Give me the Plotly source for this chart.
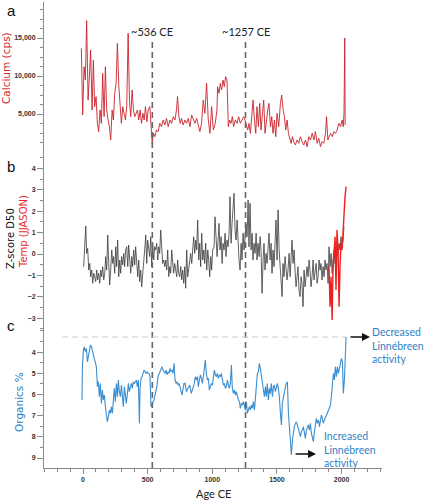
import plotly.graph_objects as go

# ---------------- Data ----------------
ca_year = [-13, -3, 8, 18, 28, 39, 49, 59, 70, 80, 90, 101, 111, 121, 132, 142, 152, 163, 173, 183,
           194, 204, 214, 225, 235, 245, 256, 266, 277, 287, 297, 307, 318, 328, 338, 349, 359, 369, 380, 390,
           400, 411, 421, 431, 442, 452, 463, 473, 483, 494, 504, 517, 525, 535, 545, 556, 568, 581, 594, 607,
           620, 633, 646, 659, 672, 685, 698, 711, 723, 731, 742, 752, 762, 775, 788, 801, 814, 827, 840, 853,
           866, 879, 892, 904, 917, 930, 943, 956, 969, 982, 995, 1008,
           1023, 1036, 1041, 1052, 1062, 1072, 1083, 1093, 1103, 1114, 1124, 1134, 1145, 1155, 1165, 1178, 1191, 1204,
           1217, 1230, 1243, 1253, 1264, 1274, 1284, 1295, 1305, 1315, 1326, 1336, 1346, 1357, 1367, 1377, 1388, 1398,
           1408, 1419, 1429, 1439, 1450, 1460, 1470, 1481, 1491, 1501, 1514, 1527, 1537, 1548, 1558, 1568, 1579, 1589,
           1600, 1610, 1620, 1630, 1643, 1656, 1669, 1682, 1695, 1708, 1721, 1734, 1747, 1760, 1773, 1786, 1798, 1811,
           1824, 1837, 1850, 1863, 1876, 1884, 1894, 1904, 1915, 1928, 1941, 1953, 1966, 1979, 1992, 2005, 2013, 2019,
           2025, 2028]
ca_cps = [13640, 4870, 11230, 9470, 17280, 6840, 9910, 13420, 5530, 12100, 5970, 7280, 3770, 2680, 5530, 3770,
          10350, 4650, 11230, 5530, 4210, 3330, 1580, 5530, 4210, 7720, 9040, 14300, 8600, 5530, 3770, 5970, 5090,
          4210, 5970, 15610, 6840, 4650, 8160, 5530, 4650, 5090, 5530, 4210, 5530, 3770, 5090, 4210, 5970, 3990,
          5530, 5970, 3330, 1140, 2460, 2020, 2900, 2680, 3770, 3330, 4210, 3550, 4430, 3330, 4210, 3770, 4650,
          4210, 5530, 7280, 4650, 3770, 4430, 3550, 4210, 3770, 4430, 3330, 4870, 4210, 3770, 4430, 3330, 2680,
          3770, 6840, 5090, 9040, 4210, 2460, 5970, 2900,
          3770, 5530, 8600, 7720, 9040, 8160, 9470, 8600, 9910, 9470, 3330, 4210, 3770, 4650, 3330, 4210, 3770,
          4650, 3770, 4210, 4650, 4210, 3330, 2900, 3770, 2460, 4650, 6840, 4210, 2460, 5970, 3330, 6400, 2900,
          5090, 6840, 2460, 4210, 5530, 6400, 3330, 4650, 2460, 4210, 2020, 5090, 3330, 6400, 7500, 5530, 4650,
          2900, 4210, 2460, 1580, 1140, 2020, 1360, 920, 1580, 1140, 2020, 1360, 920, 1580, 700, 2020, 1580, 2460,
          1580, 2680, 1140, 1800, 700, 1360, 1140, 2460, 4650, 1580, 2020, 2460, 2020, 2680, 2460, 2900, 3770,
          3330, 4210, 3330, 5090, 15000, 3550]

z_year = [5, 13, 21, 28, 36, 44, 52, 59, 67, 75, 83, 90, 98, 106, 113, 121, 129, 137, 144, 152, 160, 168, 175,
          183, 191, 199, 206, 214, 222, 230, 237, 245, 253, 260, 268, 276, 284, 291, 299, 307, 315, 322, 330, 338,
          346, 353, 361, 369, 377, 384, 392, 400, 407, 415, 423, 431, 438, 446, 454, 462, 469, 477, 485, 493, 500,
          508, 516, 524, 531, 539, 547, 554, 562, 570, 578, 585, 593, 601, 609, 616, 624, 632, 640, 647, 655, 663,
          671, 678, 686, 694, 701, 709, 717, 725, 732, 740, 748, 756, 763, 771, 779, 787, 794, 802, 810, 818, 825,
          833, 841, 848, 856, 864, 872, 879, 887, 895, 903, 910, 918, 926, 934, 941, 949, 957, 965, 972, 980, 988,
          995, 1003,
          1014, 1021, 1029, 1037, 1045, 1052, 1060, 1068, 1076, 1083, 1091, 1099, 1106, 1114, 1122, 1130, 1137,
          1145, 1153, 1161, 1168, 1176, 1184, 1192, 1199, 1207, 1215, 1223, 1230, 1238, 1246, 1253, 1261, 1269,
          1277, 1284, 1292, 1300, 1308, 1315, 1323, 1331, 1339, 1346, 1354, 1362, 1370, 1377, 1385, 1393, 1400,
          1408, 1416, 1424, 1431, 1439, 1447, 1455, 1462, 1470, 1478, 1486, 1493, 1501, 1509, 1517, 1524, 1532,
          1540, 1547, 1555, 1563, 1571, 1578, 1586, 1594, 1602, 1609, 1617, 1625, 1633, 1640, 1648, 1656, 1663,
          1671, 1679, 1687, 1694, 1702, 1710, 1718, 1725, 1733, 1741, 1749, 1756, 1764, 1772, 1780, 1787, 1795,
          1803, 1811, 1818, 1826, 1834, 1841, 1849, 1857, 1865, 1872, 1880, 1888, 1896, 1903, 1911, 1919, 1927,
          1934, 1942, 1950, 1957, 1965, 1973, 1981, 1988, 1996, 2004, 2012, 2019]
z_d50 = [-0.59, 0.34, 1.31, 0.03, 0.26, -0.75, -0.44, -1.06, -0.75, -1.37, -0.90, -1.06, -1.29, -0.75, -1.21,
         -0.90, -1.37, -0.75, -1.06, -0.59, -1.21, -0.90, -0.12, -0.75, 0.89, -0.44, -1.45, -0.75, 0.19, -0.44,
         -0.12, -0.90, 0.34, -0.59, 0.65, -1.06, -0.28, -0.90, -0.12, -0.51, 0.03, -0.59, 0.19, 0.34, -0.59, 0.42,
         -0.28, -0.90, -0.12, -0.59, 0.19, -0.51, 0.34, -0.75, -1.06, -0.28, -1.29, -0.75, -1.53, -0.90, -0.12,
         0.19, 0.89, -0.44, 0.65, 0.19, -0.12, 0.81, -0.59, 0.50, -0.28, 0.34, 0.19, 0.50, -0.28, 0.34, 0.03, 1.12,
         0.19, -0.44, -0.28, -0.59, -0.28, -0.75, 0.19, -1.06, -0.59, -0.90, 0.19, -0.59, -0.90, -0.44, -0.75,
         -1.06, -0.28, -0.90, -1.06, -0.59, -1.21, -0.75, -1.37, -0.59, -1.60, 0.19, -1.06, -0.75, -0.28, 0.03,
         -0.44, 0.34, 0.81, 0.03, 0.65, 0.19, 1.59, -0.28, 0.50, -0.59, 0.97, -0.28, 0.19, -0.44, 0.50, -0.75, 0.19,
         -0.28, -1.06, -0.12, -0.75, 0.19,
         0.34, 1.74, 0.97, -0.12, 0.65, 1.43, 0.19, 0.81, -0.44, 0.50, 0.19, 0.97, -0.12, 0.65, 0.34, 0.97, 2.68,
         0.50, 1.43, 2.37, 2.84, 1.12, 0.65, 1.59, 0.34, -0.28, -0.75, 0.50, -0.28, 0.97, 0.19, 0.65, 1.43, 0.81,
         2.52, 0.34, 2.37, 0.19, 0.97, -0.28, 0.50, 0.03, 0.97, -0.28, 0.50, -0.12, 0.81, 0.19, -1.84, -0.28, 0.50,
         -0.75, 0.03, -0.44, 0.34, 0.97, -0.28, 0.50, -0.90, 0.19, -0.59, 0.65, 1.59, -0.28, 2.06, 0.19, -0.59,
         -1.21, -1.99, -0.44, -1.06, -0.12, -0.59, -1.21, -0.75, 0.03, -1.06, -0.28, 0.65, -0.44, 0.19, -0.75,
         -1.53, -1.06, -0.59, -1.68, -1.99, -1.06, -1.37, -2.46, -0.75, -1.53, -1.21, -0.59, -1.06, -0.28, -0.75,
         -1.53, -1.06, -0.28, -1.21, -0.90, -0.44, -1.37, -1.06, -0.28, -0.75, -0.44, -1.21, -0.59, -1.06, -0.28,
         -0.75, -0.44, -1.37, 0.34, -0.59, 0.03, -0.90, -0.28, 0.19, -0.44, 0.34, -0.12, 0.03, 0.50, 0.19, 0.81,
         0.34, 0.65, 1.28]

t_year = [1903, 1911, 1919, 1927, 1934, 1942, 1950, 1957, 1965, 1973, 1981, 1988, 1996, 2004, 2012, 2019,
          2027, 2035]
t_jjason = [-0.59, -2.46, -1.06, -3.08, -0.75, 0.34, 0.81, -1.68, 1.12, 0.19, -2.46, -0.59, 0.50, 0.19, 1.28,
            1.74, 2.68, 3.15]

org_year = [-8, -5, 3, 10, 18, 26, 34, 41, 49, 57, 65, 72, 80, 88, 95, 103, 111, 119, 126, 134, 142, 150, 157,
            165, 173, 181, 188, 196, 204, 212, 219, 227, 235, 242, 250, 258, 266, 273, 281, 289, 297, 304, 312,
            320, 328, 335, 343, 351, 358, 366, 374, 382, 389, 397, 405, 413, 420, 428, 436, 441, 449, 457, 464,
            472, 480, 487, 495, 503, 511, 518, 526, 534, 542, 549, 557, 565, 573, 580, 588, 596, 604, 611, 619,
            627, 634, 642, 650, 658, 665, 673, 681, 689, 696, 704, 712, 720, 727, 735, 743, 750, 758, 766, 774,
            781, 789, 800, 812, 825, 838, 846, 854, 861, 869, 877, 885, 892, 900, 908, 916, 923, 931, 939, 946,
            954, 962, 970, 977, 985, 993, 1001, 1008, 1016, 1024, 1032, 1039, 1047, 1055, 1063, 1070, 1078, 1086,
            1094, 1101, 1109, 1117, 1125, 1132, 1140, 1148, 1155, 1163, 1171, 1179, 1186, 1194, 1202, 1210, 1217,
            1225, 1233, 1241, 1248, 1256, 1264, 1271, 1279, 1287, 1295, 1302, 1310, 1318, 1326, 1333, 1341, 1349,
            1357, 1364, 1372, 1380, 1387, 1395, 1403, 1411, 1418, 1426, 1434, 1442, 1449, 1457, 1465, 1473, 1480,
            1488, 1496, 1504, 1511, 1519, 1527, 1535, 1542, 1550, 1558, 1566, 1573, 1581, 1589, 1596, 1604, 1612,
            1620, 1627, 1635, 1643, 1651, 1658, 1666, 1674, 1682, 1689, 1697, 1705, 1712, 1720, 1728, 1736, 1743,
            1751, 1759, 1767, 1774, 1782, 1790, 1798, 1805, 1813, 1821, 1829, 1836, 1844, 1852, 1859, 1867, 1875,
            1883, 1890, 1898, 1906, 1914, 1921, 1929, 1937, 1945, 1952, 1960, 1968, 1976, 1983, 1991, 1999, 2007,
            2014, 2022, 2030, 2035]
org_pct = [6.26, 4.69, 3.91, 3.75, 3.98, 3.83, 4.46, 4.14, 3.91, 3.67, 3.75, 3.91, 4.22, 4.38, 4.46, 4.69, 5.63,
           5.40, 6.11, 5.48, 6.42, 5.79, 6.26, 6.03, 6.58, 6.89, 7.29, 7.05, 6.74, 6.89, 6.58, 6.89, 6.03, 5.71,
           6.34, 5.48, 6.11, 5.32, 5.87, 6.11, 5.56, 6.03, 6.58, 5.63, 6.03, 6.42, 5.95, 5.48, 5.87, 5.63, 5.48,
           5.71, 5.40, 5.48, 5.40, 5.32, 5.63, 5.32, 7.36, 5.71, 5.24, 5.16, 5.01, 4.85, 4.93, 5.01, 4.93, 5.01,
           5.01, 5.16, 6.58, 6.42, 6.34, 6.26, 6.03, 5.79, 5.56, 5.16, 5.01, 4.93, 4.77, 4.69, 4.85, 4.93, 5.01,
           4.85, 5.08, 4.93, 5.01, 4.77, 4.93, 4.85, 5.01, 4.53, 5.32, 5.48, 5.40, 5.56, 5.48, 5.63, 5.87, 6.03,
           5.71, 5.48, 5.48, 5.87, 5.71, 5.56, 5.95, 5.79, 5.63, 5.48, 5.16, 5.32, 5.16, 5.63, 5.32, 5.08, 5.24,
           5.48, 5.16, 4.85, 4.38, 5.01, 5.32, 5.24, 5.79, 5.63, 5.48, 5.56, 5.32, 4.85, 5.08, 5.16, 5.01, 5.24,
           5.08, 5.16, 5.01, 5.32, 5.56, 5.48, 5.71, 5.63, 5.32, 5.56, 5.71, 5.48, 4.61, 5.71, 5.95, 5.79, 6.03,
           5.87, 6.11, 6.26, 6.34, 6.66, 6.42, 6.50, 6.34, 6.58, 6.74, 6.34, 6.89, 6.74, 6.58, 6.74, 6.50, 6.66,
           6.34, 6.74, 6.11, 5.63, 5.01, 4.93, 4.53, 4.77, 5.16, 5.56, 5.79, 6.11, 5.63, 6.11, 5.48, 6.26, 5.71,
           5.95, 5.48, 6.11, 5.63, 5.56, 5.87, 5.71, 5.48, 5.71, 6.11, 6.89, 7.44, 6.42, 6.11, 5.79, 5.63, 5.48,
           5.40, 6.89, 7.68, 8.39, 8.86, 8.15, 7.68, 7.52, 7.36, 7.29, 7.44, 7.68, 7.84, 7.99, 7.76, 7.68, 7.52,
           7.76, 8.07, 7.68, 7.52, 7.44, 7.68, 7.36, 7.84, 8.07, 8.23, 7.76, 7.29, 7.13, 7.36, 7.21, 7.52, 7.13,
           6.97, 7.13, 7.36, 7.21, 7.05, 6.97, 6.89, 6.74, 6.66, 6.50, 6.11, 5.56, 5.01, 5.32, 4.69, 5.16, 4.69,
           5.01, 4.77, 4.53, 4.30, 4.46, 5.95, 5.32, 4.22, 3.28]

event_years = [536, 1257]
event_labels = ["~536 CE", "~1257 CE"]
x_ticks = [0, 500, 1000, 1500, 2000]

# ---------------- Figure ----------------
W, H = 424, 500
ML, MR, MT, MB = 44, 42, 2, 32
PW, PH = W - ML - MR, H - MT - MB


def px_x(px):
    return (px - ML) / PW


def px_y(py):
    return (H - MB - py) / PH


fig = go.Figure()
fig.add_trace(go.Scatter(x=ca_year, y=ca_cps, mode="lines", yaxis="y",
                         line=dict(color="#c9232b", width=0.9), showlegend=False))
fig.add_trace(go.Scatter(x=z_year, y=z_d50, mode="lines", yaxis="y2",
                         line=dict(color="#3a3a3a", width=0.8), showlegend=False))
fig.add_trace(go.Scatter(x=t_year, y=t_jjason, mode="lines", yaxis="y2",
                         line=dict(color="#ee1f1f", width=1.4), showlegend=False))
fig.add_trace(go.Scatter(x=org_year, y=org_pct, mode="lines", yaxis="y3",
                         line=dict(color="#3b8ed1", width=1.1), showlegend=False))

tickfont = dict(family="Liberation Sans", size=7, color="#333333", weight="bold")
axcol = "#8a8a8a"
common_y = dict(showline=True, linecolor=axcol, linewidth=1, ticks="outside", ticklen=6,
                tickcolor=axcol, tickwidth=1, showgrid=False, zeroline=False, tickfont=tickfont,
                anchor="x")

d_ab = px_y(150)
d_bc = px_y(330)

fig.update_layout(
    width=W, height=H,
    margin=dict(l=ML, r=MR, t=MT, b=MB),
    paper_bgcolor="white", plot_bgcolor="white",
    xaxis=dict(range=[-302, 2313], anchor="y3", showline=True, linecolor=axcol, linewidth=1,
               ticks="outside", ticklen=5, tickcolor=axcol, tickmode="array", tickvals=x_ticks,
               minor=dict(ticks="outside", ticklen=3, tickmode="linear", tick0=0, dtick=100,
                          tickcolor=axcol, showgrid=False),
               showgrid=False, zeroline=False, tickfont=tickfont),
    yaxis=dict(domain=[d_ab, 1], range=[263, 19737], tickmode="linear", tick0=0, dtick=5000,
               tickformat=",d",
               minor=dict(ticks="outside", ticklen=3, tickmode="linear", tick0=0, dtick=1250,
                          tickcolor=axcol, showgrid=False),
               **common_y),
    yaxis2=dict(domain=[d_bc, d_ab], range=[-3.55, 4.86], tickmode="linear", tick0=0, dtick=1,
                minor=dict(ticks="outside", ticklen=3, tickmode="linear", tick0=0, dtick=0.5,
                           tickcolor=axcol, showgrid=False),
                **common_y),
    yaxis3=dict(domain=[0, d_bc], range=[9.47, 2.96], tickmode="array", tickvals=[4, 5, 6, 7, 8, 9],
                minor=dict(ticks="outside", ticklen=3, tickmode="linear", tick0=0, dtick=0.5,
                           tickcolor=axcol, showgrid=False),
                **common_y),
)

# dashed event lines and labels
for yr, lab in zip(event_years, event_labels):
    fig.add_shape(type="line", xref="x", yref="paper", x0=yr, x1=yr, y0=0, y1=px_y(40),
                  line=dict(color="#666666", width=1.6, dash="6px,4px"))
    fig.add_annotation(x=yr, xref="x", y=px_y(32), yref="paper", text=lab, showarrow=False,
                       font=dict(family="Lato", size=11, color="#222222"),
                       xanchor="center", yanchor="middle")

# light horizontal dashed line in panel c
fig.add_shape(type="line", xref="x", yref="y3", x0=-162, x1=2029, y0=3.29, y1=3.29,
              line=dict(color="#cccccc", width=1, dash="6px,4px"))

# arrows
fig.add_annotation(x=2220, y=3.29, xref="x", yref="y3", ax=-21, ay=0, text="", showarrow=True,
                   arrowhead=2, arrowsize=1, arrowwidth=1.6, arrowcolor="#111111")
fig.add_annotation(x=1803, y=8.81, xref="x", yref="y3", ax=-22, ay=0, text="", showarrow=True,
                   arrowhead=2, arrowsize=1, arrowwidth=1.6, arrowcolor="#111111")

blue = "#2f82c6"
fig.add_annotation(x=px_x(370), y=px_y(345), xref="paper", yref="paper",
                   text="Decreased<br>Linnébreen<br>activity", showarrow=False, align="left",
                   xanchor="left", yanchor="middle", font=dict(family="Lato", size=10.5, color=blue))
fig.add_annotation(x=px_x(322), y=px_y(449), xref="paper", yref="paper",
                   text="Increased<br>Linnébreen<br>activity", showarrow=False, align="left",
                   xanchor="left", yanchor="middle", font=dict(family="Lato", size=10.5, color=blue))

# panel letters
for letter, py in [("a", 10), ("b", 166), ("c", 325)]:
    fig.add_annotation(x=px_x(11), y=px_y(py), xref="paper", yref="paper", text=letter,
                       showarrow=False, xanchor="center", yanchor="middle",
                       font=dict(family="Liberation Sans", size=15, color="#111111"))


# axis titles
def vtitle(text, px, py, color, size=10):
    fig.add_annotation(x=px_x(px), y=px_y(py), xref="paper", yref="paper", text=text,
                       textangle=-90, showarrow=False, xanchor="center", yanchor="middle",
                       font=dict(family="DejaVu Sans", size=size, color=color))


vtitle("Calcium (cps)", 6, 68, "#d42a2e", 10.5)
vtitle("Z-score D50", 11, 239, "#111111", 10)
vtitle("Temp (JJASON)", 23, 232, "#e8282b", 10)
vtitle("Organics %", 19, 402, blue, 10.5)

fig.add_annotation(x=px_x(213), y=px_y(493), xref="paper", yref="paper", text="Age CE",
                   showarrow=False, xanchor="center", yanchor="middle",
                   font=dict(family="Lato", size=11, color="#222222"))

fig.write_html("out.html", config={"displayModeBar": False},
               post_script="document.body.style.margin='0';document.body.style.padding='0';")
